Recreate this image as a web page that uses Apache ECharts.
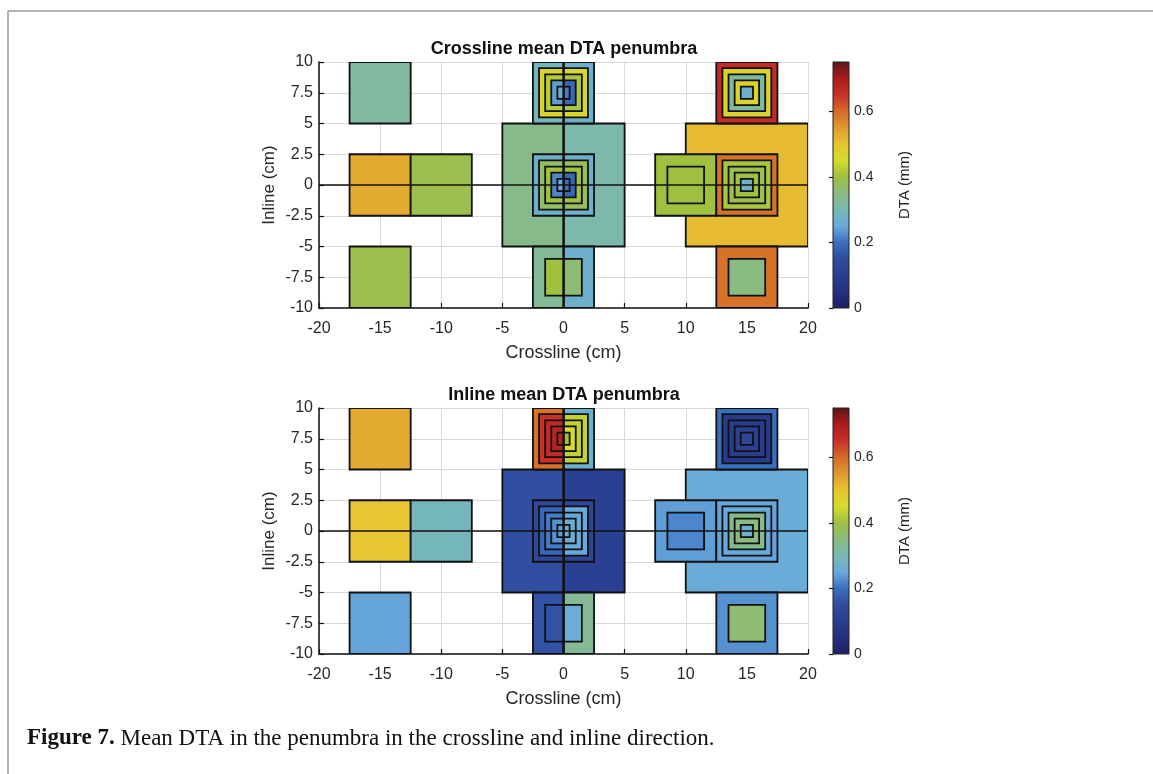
<!DOCTYPE html>
<html><head><meta charset="utf-8">
<script src="https://cdn.jsdelivr.net/npm/echarts@6/dist/echarts.min.js"></script>
<style>html,body{margin:0;padding:0;background:#fff}#c{width:1153px;height:774px}</style>
</head><body><div id="c"></div><script>
// Colormap (DTA 0 .. 0.75 mm, evenly spaced stops)
const CMAP = ['#1e1e62','#25307f','#293d8f','#2f4c9e','#3c6ebf','#68aadc','#78b8b4','#8abb80',
              '#a0c040','#d4dc2c','#e8c432','#e0982e','#d46a28','#c83028','#aa1c1c','#5a1616'];
const DTA_MIN = 0, DTA_MAX = 0.75;
const CB_TICKS = [0, 0.2, 0.4, 0.6];
const X_MIN = -20, X_MAX = 20, X_STEP = 5;
const Y_MIN = -10, Y_MAX = 10, Y_STEP = 2.5;
const TITLES = ['Crossline mean DTA penumbra', 'Inline mean DTA penumbra'];

// Whole fields: [centre x, centre y, field size (cm), mean DTA (mm)]
const crossSquares = [
  [-15, 7.5, 5, 0.32], [-15, 0, 5, 0.53], [-10, 0, 5, 0.39], [-15, -7.5, 5, 0.39],
  [15, 0, 10, 0.51],
  [15, 7.5, 5, 0.66], [15, 7.5, 4, 0.47], [15, 7.5, 3, 0.32], [15, 7.5, 2, 0.47], [15, 7.5, 1, 0.27],
  [10, 0, 5, 0.40], [10, 0, 3, 0.40],
  [15, 0, 5, 0.59], [15, 0, 4, 0.41], [15, 0, 3, 0.39], [15, 0, 2, 0.40], [15, 0, 1, 0.28],
  [15, -7.5, 5, 0.59], [15, -7.5, 3, 0.35]
];
// Split fields (left / right penumbra): [centre x, centre y, size, left DTA, right DTA]
const crossSplit = [
  [0, 7.5, 5, 0.29, 0.27], [0, 7.5, 4, 0.47, 0.46], [0, 7.5, 3, 0.42, 0.41], [0, 7.5, 2, 0.24, 0.19], [0, 7.5, 1, 0.27, 0.21],
  [0, 0, 10, 0.34, 0.31], [0, 0, 5, 0.27, 0.27], [0, 0, 4, 0.37, 0.38], [0, 0, 3, 0.40, 0.40], [0, 0, 2, 0.22, 0.19], [0, 0, 1, 0.25, 0.20],
  [0, -7.5, 5, 0.33, 0.27], [0, -7.5, 3, 0.40, 0.36]
];
const inlineSquares = [
  [-15, 7.5, 5, 0.53], [-15, 0, 5, 0.495], [-10, 0, 5, 0.29], [-15, -7.5, 5, 0.245],
  [15, 0, 10, 0.255],
  [15, 7.5, 5, 0.20], [15, 7.5, 4, 0.09], [15, 7.5, 3, 0.10], [15, 7.5, 2, 0.11], [15, 7.5, 1, 0.13],
  [10, 0, 5, 0.24], [10, 0, 3, 0.22],
  [15, 0, 5, 0.245], [15, 0, 4, 0.25], [15, 0, 3, 0.34], [15, 0, 2, 0.35], [15, 0, 1, 0.27],
  [15, -7.5, 5, 0.23], [15, -7.5, 3, 0.36]
];
const inlineSplit = [
  [0, 7.5, 5, 0.59, 0.27], [0, 7.5, 4, 0.65, 0.43], [0, 7.5, 3, 0.66, 0.43], [0, 7.5, 2, 0.68, 0.45], [0, 7.5, 1, 0.68, 0.40],
  [0, 0, 10, 0.155, 0.11], [0, 0, 5, 0.14, 0.13], [0, 0, 4, 0.19, 0.25], [0, 0, 3, 0.21, 0.25], [0, 0, 2, 0.23, 0.26], [0, 0, 1, 0.24, 0.27],
  [0, -7.5, 5, 0.16, 0.33], [0, -7.5, 3, 0.16, 0.26]
];

function toRects(squares, split) {
  const out = [];
  squares.forEach(([cx, cy, s, v]) => out.push([cx - s / 2, cx + s / 2, cy - s / 2, cy + s / 2, v, s]));
  split.forEach(([cx, cy, s, l, r]) => {
    out.push([cx - s / 2, cx, cy - s / 2, cy + s / 2, l, s]);
    out.push([cx, cx + s / 2, cy - s / 2, cy + s / 2, r, s]);
  });
  out.sort((a, b) => b[5] - a[5]);
  return out;
}

const FONT = 'Liberation Sans, Arial, sans-serif';
const SERIF = 'Liberation Serif, Times New Roman, serif';
const TXT = '#262626';
const chart = echarts.init(document.getElementById('c'), null, {renderer: 'canvas'});

const plotTops = [62, 408];
const PLOT_H = 246;
const grids = [], xAxes = [], yAxes = [], series = [];
plotTops.forEach((top) => {
  grids.push({left: 319, width: 489, top: top, height: PLOT_H});
  grids.push({left: 833, width: 16, top: top, height: PLOT_H});
});
for (let i = 0; i < 2; i++) {
  const gi = i * 2;
  xAxes.push({
    gridIndex: gi, type: 'value', min: X_MIN, max: X_MAX, interval: X_STEP,
    name: 'Crossline (cm)', nameLocation: 'middle', nameGap: 36,
    nameTextStyle: {fontFamily: FONT, fontSize: 18, color: TXT},
    axisLine: {show: true, onZero: false, lineStyle: {color: '#111', width: 1.5}},
    axisTick: {show: true, inside: true, length: 5, lineStyle: {color: '#111', width: 1.2}},
    axisLabel: {fontFamily: FONT, fontSize: 16, color: TXT, margin: 13},
    splitLine: {show: true, lineStyle: {color: '#d9d9d9', width: 1}}
  });
  xAxes.push({gridIndex: gi + 1, type: 'value', min: 0, max: 1, show: false});
  yAxes.push({
    gridIndex: gi, type: 'value', min: Y_MIN, max: Y_MAX, interval: Y_STEP,
    name: 'Inline (cm)', nameLocation: 'middle', nameGap: 41, nameRotate: 90,
    nameTextStyle: {fontFamily: FONT, fontSize: 17, color: TXT},
    axisLine: {show: true, onZero: false, lineStyle: {color: '#111', width: 1.5}},
    axisTick: {show: true, inside: true, length: 5, lineStyle: {color: '#111', width: 1.2}},
    axisLabel: {fontFamily: FONT, fontSize: 16, color: TXT, margin: 6},
    splitLine: {show: true, lineStyle: {color: '#d9d9d9', width: 1}}
  });
  yAxes.push({
    gridIndex: gi + 1, type: 'value', min: DTA_MIN, max: DTA_MAX, position: 'right',
    name: 'DTA (mm)', nameLocation: 'middle', nameGap: 48, nameRotate: 90,
    nameTextStyle: {fontFamily: FONT, fontSize: 15, color: TXT},
    axisLine: {show: true, lineStyle: {color: '#222', width: 1}},
    axisTick: {show: true, inside: true, length: 4, customValues: CB_TICKS, lineStyle: {color: '#111', width: 1.2}},
    axisLabel: {fontFamily: FONT, fontSize: 14, color: TXT, margin: 5, customValues: CB_TICKS},
    splitLine: {show: false}
  });
}

function renderRect(params, api) {
  const p0 = api.coord([api.value(0), api.value(3)]);
  const p1 = api.coord([api.value(1), api.value(2)]);
  return {
    type: 'rect',
    shape: {x: p0[0], y: p0[1], width: p1[0] - p0[0], height: p1[1] - p0[1]},
    style: {fill: api.visual('color'), stroke: '#111', lineWidth: 1.8}
  };
}
const datasets = [toRects(crossSquares, crossSplit), toRects(inlineSquares, inlineSplit)];
datasets.forEach((d, i) => {
  series.push({
    type: 'custom', xAxisIndex: i * 2, yAxisIndex: i * 2,
    renderItem: renderRect, data: d, encode: {x: [0, 1], y: [2, 3]},
    clip: true, silent: true, animation: false,
    markLine: {
      silent: true, symbol: 'none', animation: false, label: {show: false},
      lineStyle: {color: '#111', width: 1.6, type: 'solid'},
      data: [{yAxis: 0}, {xAxis: 0}]
    }
  });
});
const cbStops = CMAP.map((c, k) => ({offset: k / (CMAP.length - 1), color: c}));
for (let i = 0; i < 2; i++) {
  series.push({
    type: 'custom', xAxisIndex: i * 2 + 1, yAxisIndex: i * 2 + 1, silent: true, animation: false,
    data: [[0, DTA_MAX]],
    renderItem: function (params, api) {
      const a = api.coord([0, DTA_MAX]);
      const b = api.coord([1, DTA_MIN]);
      return {
        type: 'rect',
        shape: {x: a[0], y: a[1], width: b[0] - a[0], height: b[1] - a[1]},
        style: {fill: new echarts.graphic.LinearGradient(0, 1, 0, 0, cbStops), stroke: '#222', lineWidth: 1}
      };
    }
  });
}

chart.setOption({
  animation: false,
  backgroundColor: '#fff',
  title: TITLES.map((t, i) => ({
    text: t, left: 559, top: plotTops[i] - 27, textAlign: 'center',
    textStyle: {fontFamily: FONT, fontSize: 18, fontWeight: 'bold', color: '#111'}
  })),
  grid: grids, xAxis: xAxes, yAxis: yAxes,
  visualMap: [{
    type: 'continuous', show: false, seriesIndex: [0, 1], dimension: 4,
    min: DTA_MIN, max: DTA_MAX, inRange: {color: CMAP}
  }],
  series: series,
  graphic: [
    {type: 'line', shape: {x1: 8, y1: 11, x2: 1153, y2: 11}, style: {stroke: '#9a9a9a', lineWidth: 1.5}},
    {type: 'line', shape: {x1: 8, y1: 11, x2: 8, y2: 774}, style: {stroke: '#9a9a9a', lineWidth: 1.5}},
    {type: 'text', left: 27, top: 727, style: {
      text: '{b|Figure 7.} Mean DTA in the penumbra in the crossline and inline direction.',
      rich: {b: {fontFamily: SERIF, fontSize: 23, fontWeight: 'bold', fill: '#111'}},
      fontFamily: SERIF, fontSize: 23, fill: '#111'
    }}
  ]
});
</script></body></html>
